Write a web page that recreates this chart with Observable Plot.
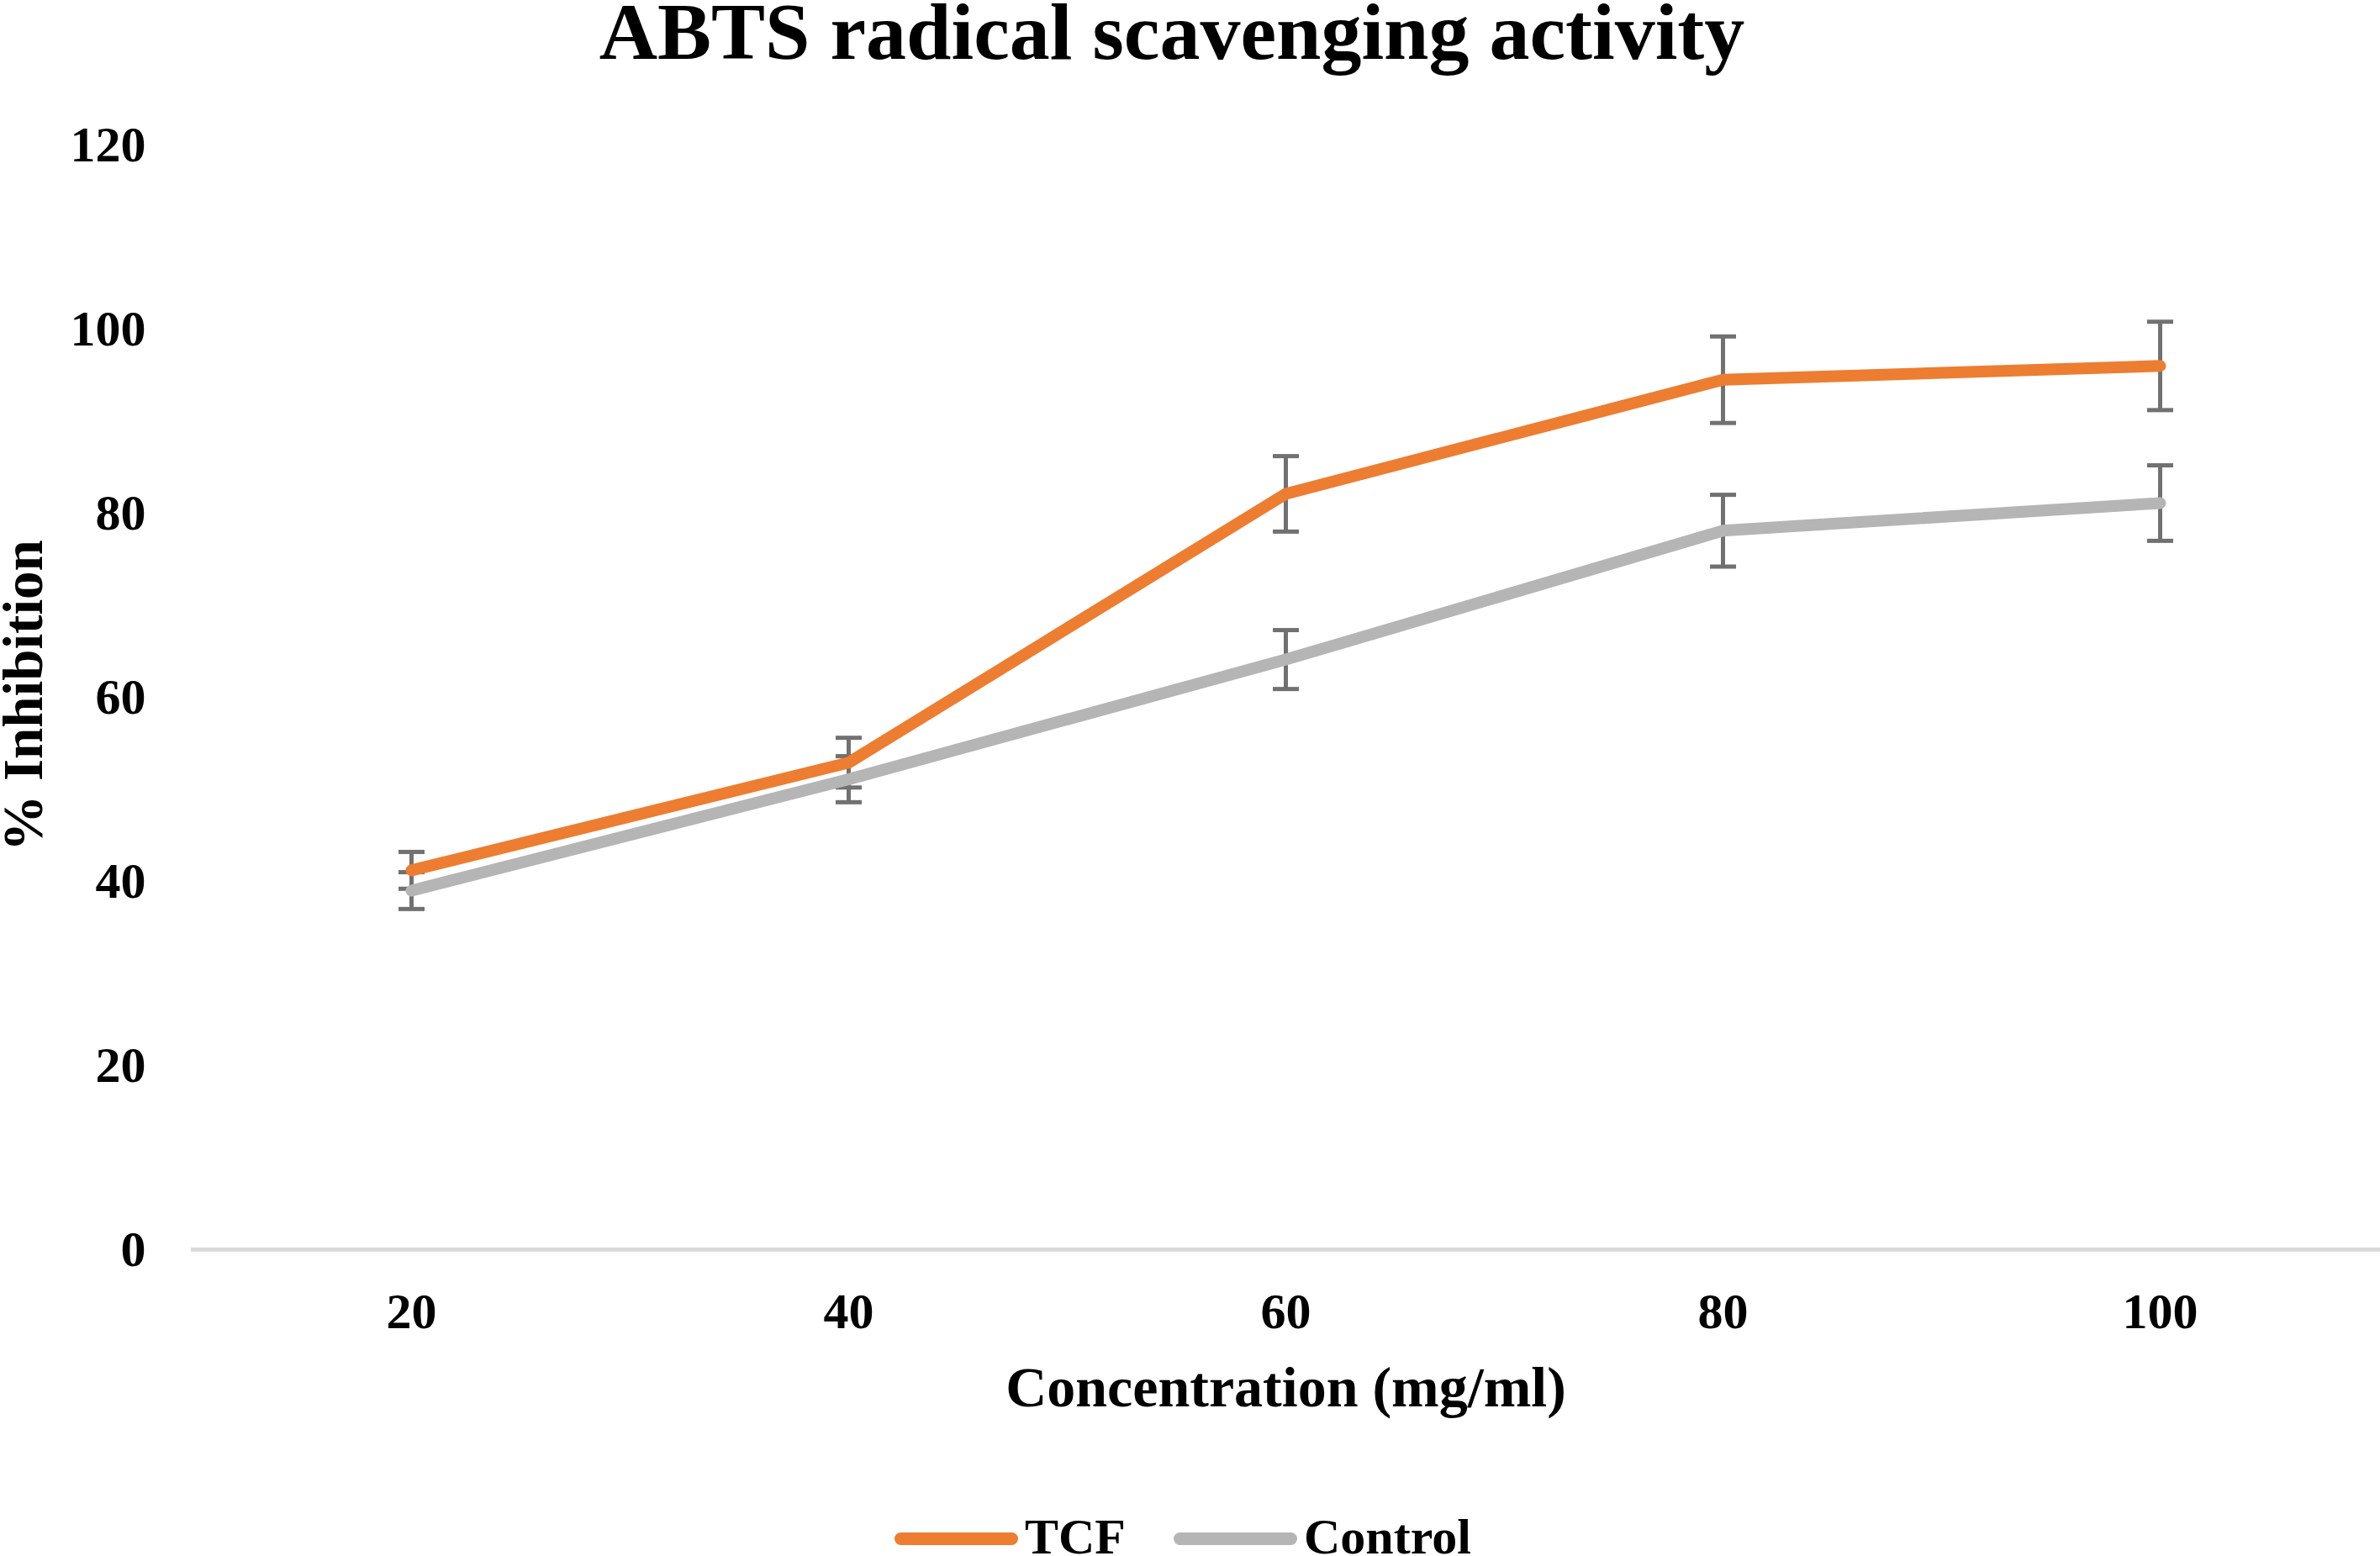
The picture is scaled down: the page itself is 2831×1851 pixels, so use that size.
<!DOCTYPE html>
<html>
<head>
<meta charset="utf-8">
<script src="https://cdn.jsdelivr.net/npm/d3@7"></script>
<script src="https://cdn.jsdelivr.net/npm/@observablehq/plot@0.6"></script>
<style>
  html, body { margin: 0; padding: 0; background: #fff; }
  #page { position: relative; width: 2831px; height: 1851px; overflow: hidden; font-family: "Liberation Serif", "Times New Roman", serif; font-weight: bold; color: #000; }
  #title { position: absolute; left: 0; width: 2788px; top: -10px; text-align: center; font-size: 96px; line-height: 96px; white-space: nowrap; }
  #chart { position: absolute; left: 0; top: 100px; }
  .lg-swatch { position: absolute; height: 15px; border-radius: 8px; }
  .lg-text { position: absolute; font-size: 60px; line-height: 60px; white-space: nowrap; }
</style>
</head>
<body>
<div id="page">
  <div id="title">ABTS radical scavenging activity</div>
  <div id="chart"></div>
</div>
<script>
// ---- data ----
const concentrations = [20, 40, 60, 80, 100];
const seriesNames = ["TCF", "Control"];
const tcfValues = [41.2, 52.9, 82.1, 94.5, 96.0];
const tcfErrors = [2.0, 2.7, 4.1, 4.7, 4.8];
const controlValues = [39.0, 51.1, 64.1, 78.1, 81.1];
const controlErrors = [2.0, 2.5, 3.2, 3.9, 4.1];
const yTicks = [0, 20, 40, 60, 80, 100, 120];
const seriesColors = ["#ED7D31", "#B5B5B5"];

const rows = [];
concentrations.forEach((c, i) => {
  rows.push({series: "TCF", conc: c, value: tcfValues[i], err: tcfErrors[i]});
});
concentrations.forEach((c, i) => {
  rows.push({series: "Control", conc: c, value: controlValues[i], err: controlErrors[i]});
});

const W = 2831, H = 1660;
const font = '"Liberation Serif", "Times New Roman", serif';

// horizontal cap symbol for error bars
const capSymbol = {
  draw(context) {
    context.moveTo(-15.5, 0);
    context.lineTo(15.5, 0);
  }
};

const chart = Plot.plot({
  width: W,
  height: H,
  marginLeft: 227,
  marginRight: 0,
  marginTop: 72,
  marginBottom: 274,
  style: {fontFamily: font, fontWeight: "bold", background: "#fff", color: "#000"},
  x: {type: "point", domain: concentrations, padding: 0.5, label: null},
  y: {domain: [0, 120], label: null},
  color: {domain: seriesNames, range: seriesColors},
  marks: [
    Plot.ruleY([0], {stroke: "#D9D9D9", strokeWidth: 5}),
    Plot.axisY({ticks: yTicks, tickSize: 0, tickPadding: 54, fontSize: 60, fontWeight: "bold", label: null}),
    Plot.axisX({tickSize: 0, tickPadding: 51, fontSize: 60, fontWeight: "bold", label: null}),
    // error bars
    Plot.ruleX(rows, {x: "conc", y1: d => d.value - d.err, y2: d => d.value + d.err, stroke: "#717171", strokeWidth: 5}),
    Plot.dot(rows, {x: "conc", y: d => d.value + d.err, symbol: capSymbol, r: 10, stroke: "#717171", strokeWidth: 5, fill: "none"}),
    Plot.dot(rows, {x: "conc", y: d => d.value - d.err, symbol: capSymbol, r: 10, stroke: "#717171", strokeWidth: 5, fill: "none"}),
    // lines
    Plot.line(rows, {x: "conc", y: "value", z: "series", stroke: "series", strokeWidth: 14, strokeLinecap: "round", strokeLinejoin: "round"}),
    // axis titles
    Plot.text(["Concentration (mg/ml)"], {frameAnchor: "bottom", textAnchor: "middle", dy: 186, fontSize: 68, fontWeight: "bold", fill: "#000", text: d => d}),
    Plot.text(["% Inhibition"], {frameAnchor: "left", textAnchor: "middle", dx: -199, dy: -2, rotate: -90, fontSize: 67, fontWeight: "bold", fill: "#000", text: d => d})
  ]
});
document.getElementById("chart").appendChild(chart);

// legend (below the chart)
const page = document.getElementById("page");
const legendItems = [
  {name: seriesNames[0], color: seriesColors[0], swatchX: 1064, textX: 1219},
  {name: seriesNames[1], color: seriesColors[1], swatchX: 1396, textX: 1551}
];
legendItems.forEach(it => {
  const sw = document.createElement("div");
  sw.className = "lg-swatch";
  sw.style.left = it.swatchX + "px";
  sw.style.top = (1830 - 7.5) + "px";
  sw.style.width = "147px";
  sw.style.background = it.color;
  page.appendChild(sw);
  const tx = document.createElement("div");
  tx.className = "lg-text";
  tx.textContent = it.name;
  tx.style.left = it.textX + "px";
  tx.style.top = (1848 - 50) + "px";
  page.appendChild(tx);
});
</script>
</body>
</html>
